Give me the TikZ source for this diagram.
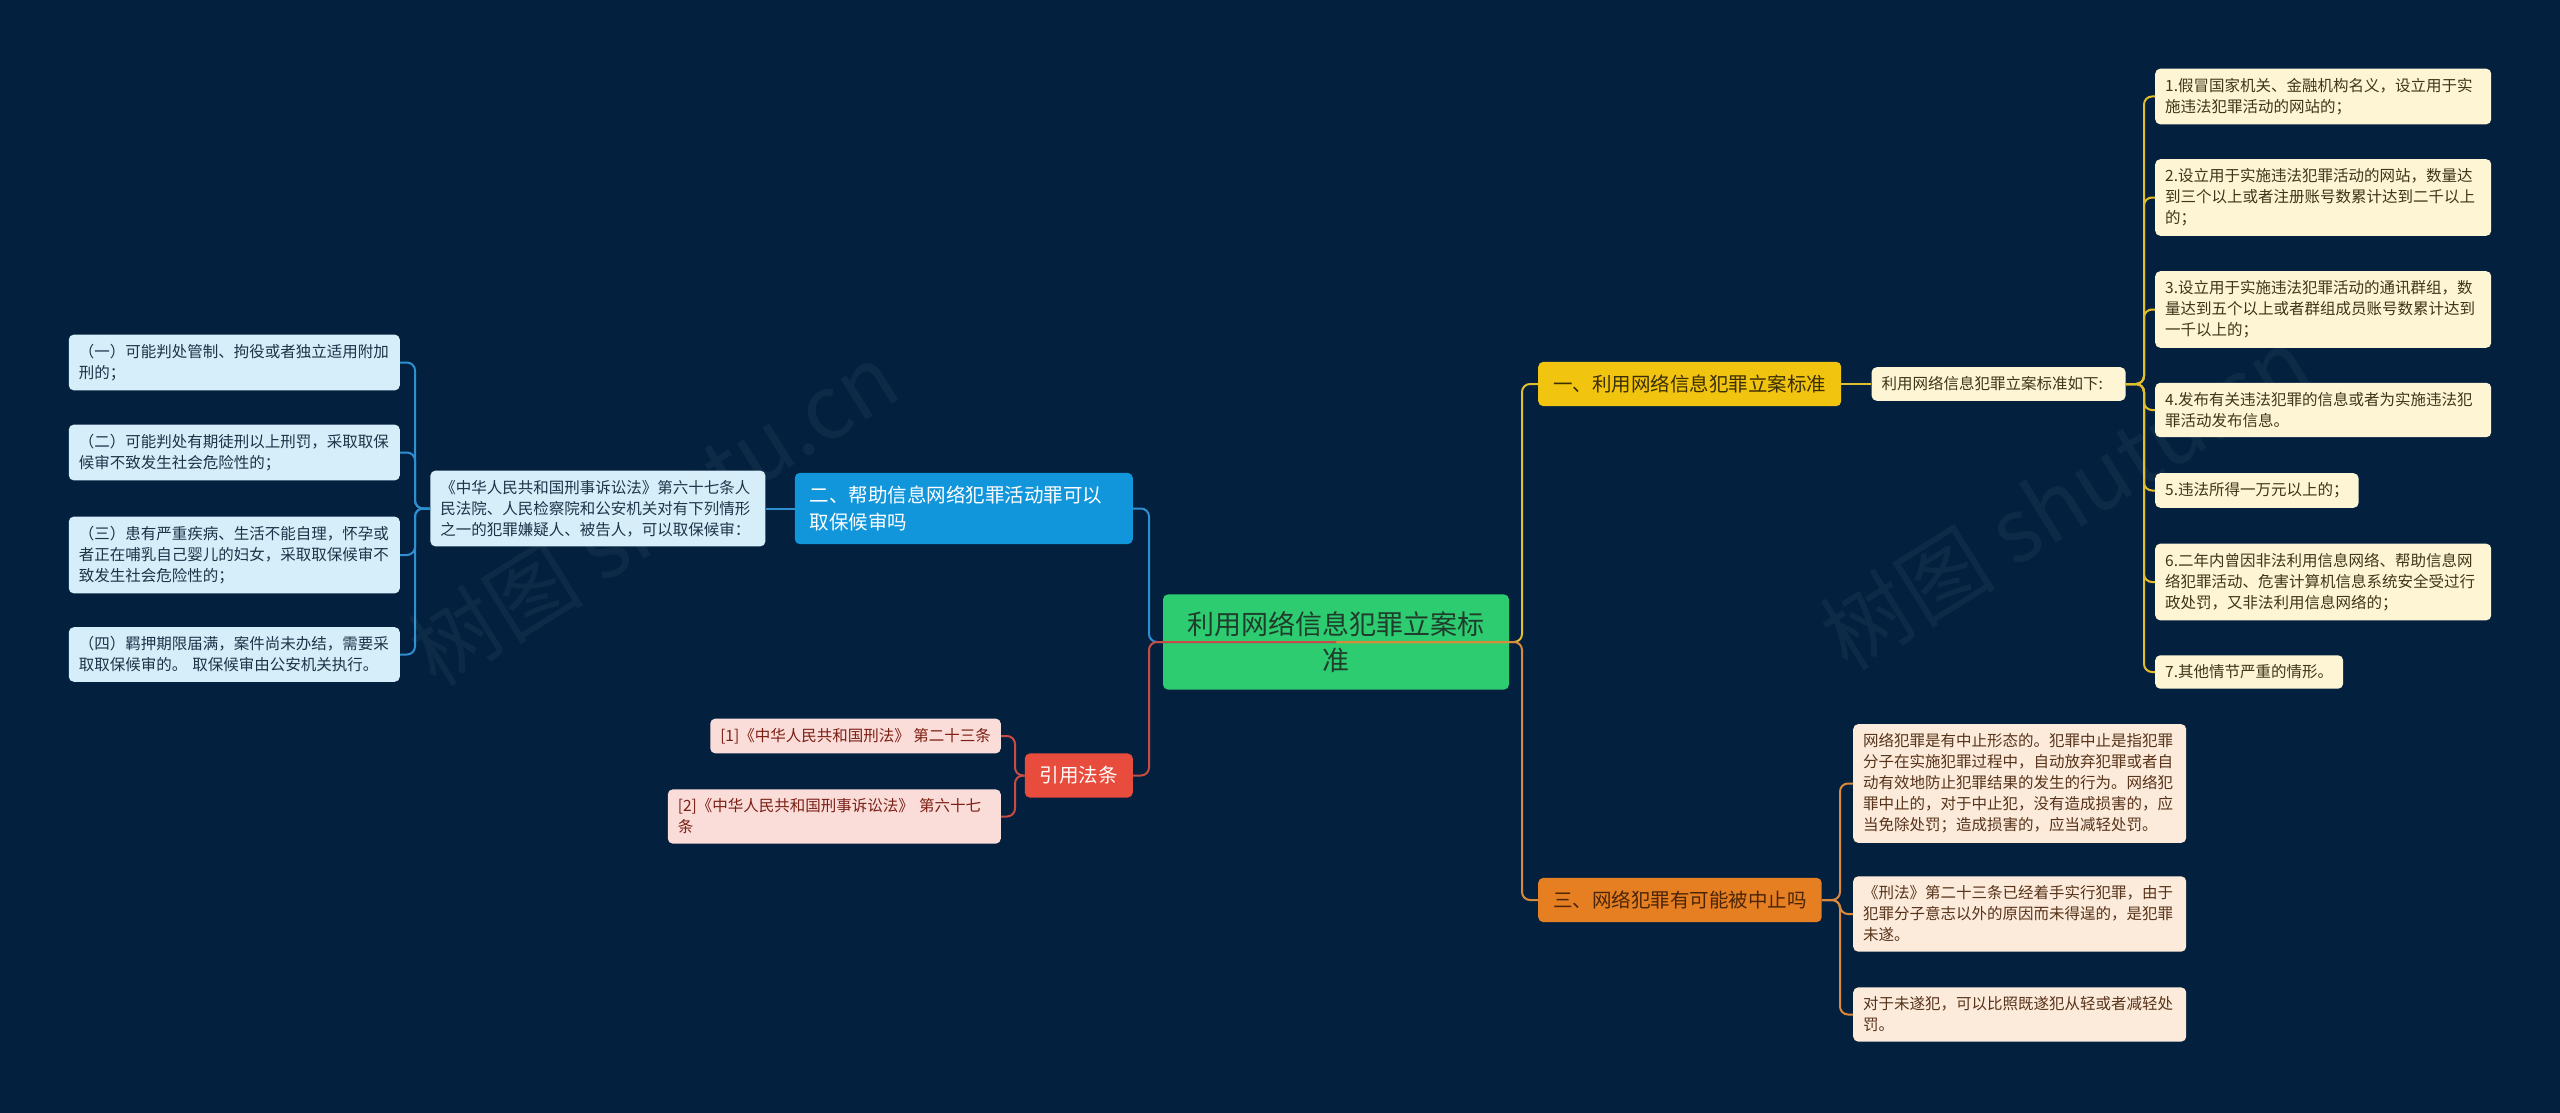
\documentclass[tikz,border=0pt]{standalone}
\usepackage{fontspec}
\newfontfamily\cjk{Noto Sans CJK SC}
\usepackage{tikz}
\usetikzlibrary{positioning}

\definecolor{bgnavy}{HTML}{03213F}
\definecolor{rootgreen}{HTML}{2ECC71}
\definecolor{rootink}{HTML}{1F3D2B}
\definecolor{yelfill}{HTML}{F1C40F}
\definecolor{yelink}{HTML}{3B2E05}
\definecolor{yelline}{HTML}{E2BD2E}
\definecolor{creamfill}{HTML}{FDF5D4}
\definecolor{creamink}{HTML}{3E3618}
\definecolor{orafill}{HTML}{E67E22}
\definecolor{oraink}{HTML}{4A2508}
\definecolor{oraline}{HTML}{D98A3D}
\definecolor{peachfill}{HTML}{FCEBDB}
\definecolor{peachink}{HTML}{57331A}
\definecolor{blufill}{HTML}{1296DB}
\definecolor{bluline}{HTML}{2E8FD1}
\definecolor{icefill}{HTML}{D6EEF9}
\definecolor{iceink}{HTML}{1C3448}
\definecolor{redfill}{HTML}{E74C3C}
\definecolor{redline}{HTML}{C94B42}
\definecolor{pinkfill}{HTML}{FADCD9}
\definecolor{pinkink}{HTML}{7B1F14}

\begin{document}
\begin{tikzpicture}[
  x=1pt, y=-1pt,
  root/.style={
    rectangle, rounded corners=5pt, fill=rootgreen, text=rootink,
    inner xsep=23pt, inner ysep=17pt, text width=300pt, align=center,
    font=\cjk\fontsize{27}{36}\selectfont
  },
  topic/.style={
    rectangle, rounded corners=5pt, inner xsep=15pt, inner ysep=13pt,
    align=left, font=\cjk\fontsize{19.5}{27}\selectfont
  },
  leaf/.style={
    rectangle, rounded corners=5pt, inner xsep=10pt, inner ysep=9.5pt,
    align=left, font=\cjk\fontsize{15.5}{21}\selectfont
  },
  yel/.style={fill=yelfill, text=yelink},
  ora/.style={fill=orafill, text=oraink},
  blu/.style={fill=blufill, text=white},
  red/.style={fill=redfill, text=white},
  cream/.style={fill=creamfill, text=creamink},
  peach/.style={fill=peachfill, text=peachink},
  ice/.style={fill=icefill, text=iceink},
  pink/.style={fill=pinkfill, text=pinkink},
  wire/.style={line width=2pt, rounded corners=8pt},
  wmark/.style={font=\cjk\fontsize{88}{88}\selectfont, text=white, text opacity=0.045, rotate=32}
]

\useasboundingbox (0,0) rectangle (2560,1113);
\fill[bgnavy] (0,0) rectangle (2560,1113);

% --- bus lines ---
\coordinate (rbus) at (1522,0);
\coordinate (lbus) at (1149,0);
\coordinate (ybus) at (2144,0);
\coordinate (obus) at (1840,0);
\coordinate (bbus) at (415,0);
\coordinate (cbus) at (1015,0);

% --- centre ---
\node[root] (root) at (1336,642) {利用网络信息犯罪立案标\\准};

% --- right: standard ---
\node[topic, yel, anchor=west] (std) at (1538,384) {一、利用网络信息犯罪立案标准};
\node[leaf, cream, right=30pt of std, text width=234pt] (stdlist) {利用网络信息犯罪立案标准如下:};

\node[leaf, cream, anchor=west, text width=316pt] (y1) at (2155,96.5) {1.假冒国家机关、金融机构名义，设立用于实\\施违法犯罪活动的网站的；};
\node[leaf, cream, anchor=west, text width=316pt] (y2) at (2155,197.5) {2.设立用于实施违法犯罪活动的网站，数量达\\到三个以上或者注册账号数累计达到二千以上\\的；};
\node[leaf, cream, anchor=west, text width=316pt] (y3) at (2155,309.5) {3.设立用于实施违法犯罪活动的通讯群组，数\\量达到五个以上或者群组成员账号数累计达到\\一千以上的；};
\node[leaf, cream, anchor=west, text width=316pt] (y4) at (2155,410) {4.发布有关违法犯罪的信息或者为实施违法犯\\罪活动发布信息。};
\node[leaf, cream, anchor=west] (y5) at (2155,490.5) {5.违法所得一万元以上的；};
\node[leaf, cream, anchor=west, text width=316pt] (y6) at (2155,582) {6.二年内曾因非法利用信息网络、帮助信息网\\络犯罪活动、危害计算机信息系统安全受过行\\政处罚，又非法利用信息网络的；};
\node[leaf, cream, anchor=west] (y7) at (2155,672) {7.其他情节严重的情形。};

% --- right: discontinuance ---
\node[topic, ora, anchor=west] (stop) at (1538,900) {三、网络犯罪有可能被中止吗};

\node[leaf, peach, anchor=west, text width=313pt] (o1) at (1853,783.5) {网络犯罪是有中止形态的。犯罪中止是指犯罪\\分子在实施犯罪过程中，自动放弃犯罪或者自\\动有效地防止犯罪结果的发生的行为。网络犯\\罪中止的，对于中止犯，没有造成损害的，应\\当免除处罚；造成损害的，应当减轻处罚。};
\node[leaf, peach, anchor=west, text width=313pt] (o2) at (1853,914) {《刑法》第二十三条已经着手实行犯罪，由于\\犯罪分子意志以外的原因而未得逞的，是犯罪\\未遂。};
\node[leaf, peach, anchor=west, text width=313pt] (o3) at (1853,1014.5) {对于未遂犯，可以比照既遂犯从轻或者减轻处\\罚。};

% --- left: bail ---
\node[topic, blu, anchor=east, text width=308pt] (bail) at (1133,508.5) {二、帮助信息网络犯罪活动罪可以\\取保候审吗};
\node[leaf, ice, left=29pt of bail, text width=315pt] (law) {《中华人民共和国刑事诉讼法》第六十七条人\\民法院、人民检察院和公安机关对有下列情形\\之一的犯罪嫌疑人、被告人，可以取保候审：};

\node[leaf, ice, anchor=east, text width=311pt] (b1) at (400,362.5) {（一）可能判处管制、拘役或者独立适用附加\\刑的；};
\node[leaf, ice, anchor=east, text width=311pt] (b2) at (400,452.5) {（二）可能判处有期徒刑以上刑罚，采取取保\\候审不致发生社会危险性的；};
\node[leaf, ice, anchor=east, text width=311pt] (b3) at (400,555) {（三）患有严重疾病、生活不能自理，怀孕或\\者正在哺乳自己婴儿的妇女，采取取保候审不\\致发生社会危险性的；};
\node[leaf, ice, anchor=east, text width=311pt] (b4) at (400,654.5) {（四）羁押期限届满，案件尚未办结，需要采\\取取保候审的。 取保候审由公安机关执行。};

% --- left: citations ---
\node[topic, red, anchor=east] (cite) at (1133,775.5) {引用法条};
\node[leaf, pink, anchor=east] (r1) at (1001,736) {[1]《中华人民共和国刑法》 第二十三条};
\node[leaf, pink, anchor=east, text width=313pt] (r2) at (1001,816.5) {[2]《中华人民共和国刑事诉讼法》 第六十七\\条};

% --- connectors ---
\draw[wire, yelline] (root.center) -- (rbus |- root.center) |- (std.west);
\draw[wire, oraline] (root.center) -- (rbus |- root.center) |- (stop.west);
\draw[wire, bluline] (root.center) -- (lbus |- root.center) |- (bail.east);
\draw[wire, redline] (root.center) -- (lbus |- root.center) |- (cite.east);

\draw[wire, yelline] (std.east) -- (stdlist.west);
\foreach \n in {y1,y2,y3,y4,y5,y6,y7}
  \draw[wire, yelline] (stdlist.east) -- (ybus |- stdlist.east) |- (\n.west);

\foreach \n in {o1,o2,o3}
  \draw[wire, oraline] (stop.east) -- (obus |- stop.east) |- (\n.west);

\draw[wire, bluline] (bail.west) -- (law.east);
\foreach \n in {b1,b2,b3,b4}
  \draw[wire, bluline] (law.west) -- (bbus |- law.west) |- (\n.east);

\foreach \n in {r1,r2}
  \draw[wire, redline] (cite.west) -- (cbus |- cite.west) |- (\n.east);

% --- watermark ---
\node[wmark] (wm1) at (653,514) {树图 shutu.cn};
\node[wmark] (wm2) at (2065,498) {树图 shutu.cn};

\end{tikzpicture}
\end{document}
